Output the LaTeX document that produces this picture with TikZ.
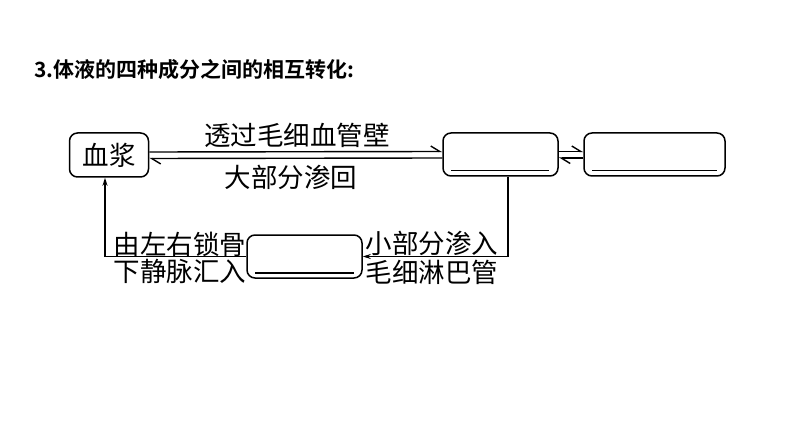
\documentclass[tikz,border=0pt]{standalone}
\usepackage{fontspec}
\usetikzlibrary{arrows.meta}
\newfontfamily\cjk{Noto Sans CJK SC}
\newfontfamily\cjkb{Noto Sans CJK SC Bold}
\begin{document}
\begin{tikzpicture}[x=1pt,y=-1pt,
  box/.style={draw,line width=1.5pt,rounded corners=8pt,inner sep=0pt},
  lbl/.style={font=\cjk\fontsize{26.5}{30}\selectfont,inner sep=0pt},
  harp/.style={line width=1.4pt,-{Straight Barb[harpoon,length=9pt,width=11pt]}},
  arr/.style={line width=1.4pt,-{Stealth[length=8pt,width=5pt]}},
  blank/.style={line width=1.5pt}]
\useasboundingbox (0,0) rectangle (794,446);
\node[font=\cjkb\fontsize{21}{24}\selectfont,anchor=west,inner sep=0pt] (title) at (34,70) {3.体液的四种成分之间的相互转化:};
\node[box,minimum width=79pt,minimum height=44pt,lbl] (b1) at (109,155) {血浆};
\node[box,minimum width=115pt,minimum height=43pt] (b2) at (500.5,154.5) {};
\node[box,minimum width=141pt,minimum height=43pt] (b3) at (654.5,154.5) {};
\node[box,minimum width=115pt,minimum height=43pt] (b4) at (304.5,256.5) {};
\draw[blank] ([xshift=9pt,yshift=6pt]b2.south west) -- ([xshift=-10pt,yshift=6pt]b2.south east);
\draw[blank] ([xshift=9pt,yshift=6pt]b3.south west) -- ([xshift=-9pt,yshift=6pt]b3.south east);
\draw[blank] ([xshift=9pt,yshift=6pt]b4.south west) -- ([xshift=-9pt,yshift=6pt]b4.south east);
\draw[harp] ([yshift=3pt]b1.east) -- ([yshift=3pt]b2.west);
\draw[harp] ([yshift=-3.5pt]b2.west) -- ([yshift=-3.5pt]b1.east);
\draw[harp] ([yshift=3pt]b2.east) -- ([yshift=3pt]b3.west);
\draw[harp] ([yshift=-3.5pt]b3.west) -- ([yshift=-3.5pt]b2.east);
\draw[arr] ([xshift=7.5pt]b2.south) |- (b4.east);
\draw[arr] (b4.west) -| ([xshift=-4pt]b1.south);
\node[lbl] (t1) at (297,135) {透过毛细血管壁};
\node[lbl] (t2) at (291,177) {大部分渗回};
\node[lbl] (t3) at (180,244) {由左右锁骨};
\node[lbl] (t4) at (180,271) {下静脉汇入};
\node[lbl] (t5) at (432,243) {小部分渗入};
\node[lbl] (t6) at (432,272) {毛细淋巴管};
\end{tikzpicture}
\end{document}
